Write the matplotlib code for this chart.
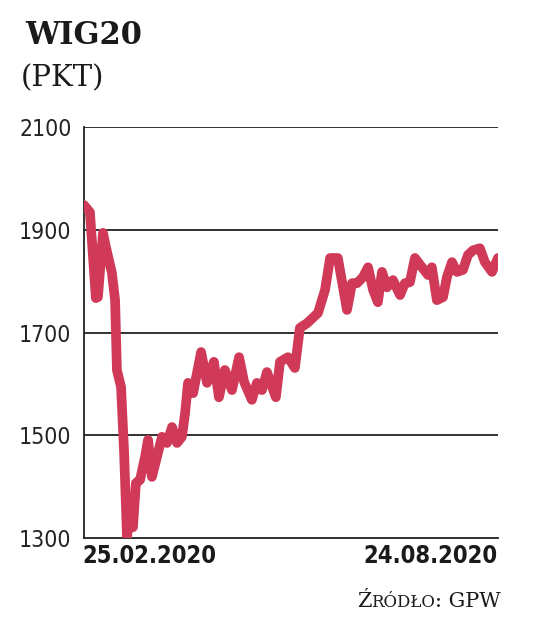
import matplotlib

matplotlib.use("Agg")
import matplotlib.pyplot as plt
import pandas as pd

START = pd.Timestamp("2020-02-25")
END = pd.Timestamp("2020-08-24")

# day offsets from START and WIG20 close (pts)
DAY_OFFSETS = [0, 2.6, 5.2, 6.1, 8.3, 9.6, 12.2, 13.6, 14.4, 16.2, 17.5, 18.8,
               20.1, 21.4, 22.7, 24.5, 26.7, 28.0, 29.7, 31.9, 34.1, 36.3,
               38.5, 40.7, 42.8, 44.2, 45.5, 47.7, 49.4, 51.2, 53.8, 56.8,
               59.0, 61.6, 64.7, 67.8, 70.0, 73.4, 75.6, 77.8, 80.0, 83.9,
               85.7, 89.2, 92.2, 94.4, 97.5, 102.3, 105.4, 107.6, 111.0,
               115.0, 117.2, 119.4, 122.0, 124.2, 126.4, 128.5, 130.3, 132.5,
               135.1, 138.2, 140.3, 142.5, 144.7, 147.8, 150.4, 152.1, 154.3,
               157.0, 158.7, 160.9, 163.1, 165.7, 167.9, 170.1, 173.1, 175.3,
               178.4, 181.0]
VALUES = [1948, 1934, 1767, 1769, 1894, 1866, 1816, 1763, 1627, 1594, 1471,
          1302, 1345, 1321, 1407, 1413, 1458, 1491, 1419, 1458, 1497, 1485,
          1516, 1485, 1497, 1543, 1602, 1582, 1621, 1662, 1602, 1643, 1574,
          1627, 1588, 1652, 1604, 1569, 1602, 1588, 1623, 1574, 1643, 1652,
          1631, 1709, 1718, 1738, 1783, 1845, 1845, 1744, 1796, 1796, 1808,
          1827, 1783, 1759, 1818, 1788, 1802, 1773, 1796, 1798, 1845, 1827,
          1812, 1827, 1763, 1769, 1808, 1837, 1818, 1822, 1851, 1860, 1864,
          1837, 1818, 1845]
Y_TICKS = [1300, 1500, 1700, 1900, 2100]
DATE_LABELS = ["25.02.2020", "24.08.2020"]

LINE_COLOR = "#d03a58"
INK = "#1a1a1a"
NARROW = ["DejaVu Sans"]
SLAB = ["DejaVu Serif"]

dates = START + pd.to_timedelta(DAY_OFFSETS, unit="D")

fig = plt.figure(figsize=(5.36, 6.32), dpi=100)
ax = fig.add_axes([0.1567, 0.1487, 0.7723, 0.6503])

for v in Y_TICKS[1:]:
    ax.axhline(v, color="#222222", lw=1.3, zorder=1)
ax.plot(dates, VALUES, color=LINE_COLOR, lw=7, solid_joinstyle="round",
        solid_capstyle="round", zorder=3)

ax.set_xlim(START, END)
ax.set_ylim(Y_TICKS[0], Y_TICKS[-1])
ax.set_yticks(Y_TICKS)
ax.set_yticklabels([str(t) for t in Y_TICKS], family=NARROW,
                   fontstretch="condensed", fontweight="light", fontsize=16.5,
                   color="#222222")
ax.tick_params(axis="y", length=0, pad=9)
ax.set_xticks([])
for side in ("top", "right"):
    ax.spines[side].set_visible(False)
for side in ("left", "bottom"):
    ax.spines[side].set_color("#222222")
    ax.spines[side].set_linewidth(1.3)

date_style = dict(transform=ax.transAxes, va="top", family=NARROW,
                  fontstretch="condensed", fontweight="bold", fontsize=17,
                  color=INK)
ax.text(-0.004, -0.014, DATE_LABELS[0], ha="left", **date_style)
ax.text(1.0, -0.014, DATE_LABELS[1], ha="right", **date_style)

fig.text(25 / 536, 1 - 36 / 632, "WIG20", family=SLAB, fontweight="heavy",
         fontsize=22, va="center", ha="left", color=INK)
fig.text(21 / 536, 1 - 78 / 632, "(PKT)", family=SLAB, fontsize=21,
         va="center", ha="left", color=INK)

# source line in small caps
ident = matplotlib.transforms.IdentityTransform()
t1 = fig.text(357 / 536, 1 - 611 / 632, "Ź", family=SLAB, fontsize=15,
              va="bottom", ha="left", color=INK)
t2 = fig.text(0, 0, "RÓDŁO", family=SLAB, fontsize=12, color=INK,
              va="bottom", ha="left", transform=ident)
fig.canvas.draw()
r = fig.canvas.get_renderer()
b1 = t1.get_window_extent(r)
t2.set_position((b1.x1, b1.y0))
fig.canvas.draw()
b2 = t2.get_window_extent(r)
fig.text(b2.x1, b1.y0, ": GPW", family=SLAB, fontsize=15, color=INK,
         va="bottom", ha="left", transform=ident)

fig.savefig("out.png", dpi=100)
